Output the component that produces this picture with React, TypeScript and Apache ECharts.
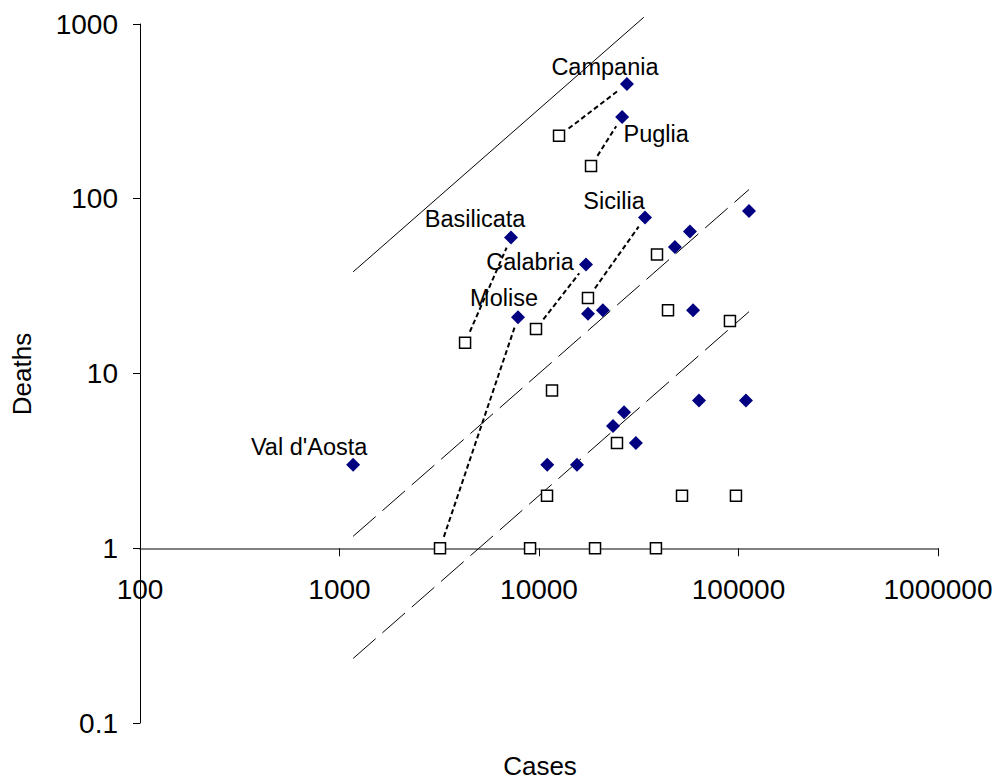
import React, { useEffect, useRef } from "react";
import * as echarts from "echarts";

// Later period (filled diamonds): cases and deaths per region
const diamondNames = [
  "Val d'Aosta", "Campania", "Puglia", "Sicilia", "Basilicata", "Calabria", "Molise",
  "", "", "", "", "", "", "", "", "", "", "", "", "",
];
const diamondCases = [
  1170, 27600, 26100, 34000, 7240, 17200, 7850,
  48000, 57100, 112900, 17600, 20900, 59200,
  11000, 15500, 23500, 26700, 30600, 63400, 109000,
];
const diamondDeaths = [
  3, 454, 294, 78, 60, 42, 21,
  53, 65, 85, 22, 23, 23,
  3, 3, 5, 6, 4, 7, 7,
];

// Earlier period (open squares)
const squareCases = [
  12600, 18230, 17600, 4260, 9660, 3190,
  39040, 44330, 90600, 11620, 24600, 10970, 52100, 97100, 9020, 19090, 38560,
];
const squareDeaths = [
  229, 154, 27, 15, 18, 1,
  48, 23, 20, 8, 4, 2, 2, 2, 1, 1, 1,
];

// dotted connectors: [diamond index, square index]
const connectorPairs = [
  [1, 0], [2, 1], [3, 2], [4, 3], [5, 4], [6, 5],
];

// reference lines deaths = rate * cases
const trendRates = [0.0326, 0.001, 0.0002];
const trendFrom = [1170, 1170, 1170];
const trendTo = [33500, 112900, 112900];

const xTickValues = [100, 1000, 10000, 100000, 1000000];
const xTickLabels = ["100", "1000", "10000", "100000", "1000000"];
const yTickValues = [0.1, 1, 10, 100, 1000];
const yTickLabels = ["0.1", "1", "10", "100", "1000"];

// label placement (style)
const labelOffsets: Record<string, [number, number]> = {
  "Val d'Aosta": [-44, -18],
  Campania: [-22, -17],
  Puglia: [34, 17],
  Sicilia: [-31, -17],
  Basilicata: [-36, -19],
  Calabria: [-56, -3],
  Molise: [-14, -19],
};

const FONT = "'Liberation Sans', Arial, sans-serif";

function pickLabel(values: number[], labels: string[], v: number) {
  const i = values.findIndex((t) => Math.abs(Math.log10(t) - Math.log10(v)) < 1e-6);
  return i >= 0 ? labels[i] : "";
}

export default function App() {
  const ref = useRef<HTMLDivElement>(null);

  useEffect(() => {
    if (!ref.current) return;
    const chart = echarts.init(ref.current, undefined, { renderer: "svg" });

    const gridTop = 24;
    const gridBottom = 60;
    const gridHeight = 783 - gridTop - gridBottom;
    const yMin = 0.1;
    const yMax = 1000;
    // move x-axis up to the y=1 line
    const xAxisOffset =
      -(gridHeight * (Math.log10(1) - Math.log10(yMin))) / (Math.log10(yMax) - Math.log10(yMin));

    const trendSeries = trendRates.map((r, i) => ({
      type: "line",
      data: [
        [trendFrom[i], r * trendFrom[i]],
        [trendTo[i], r * trendTo[i]],
      ],
      showSymbol: false,
      symbol: "none",
      clip: false,
      silent: true,
      z: 1,
      lineStyle: {
        color: "#000",
        width: 1,
        type: i === 0 ? "solid" : [30, 9],
      },
    }));

    const connectorData = connectorPairs.map(([d, s]) => [
      squareCases[s], squareDeaths[s], diamondCases[d], diamondDeaths[d],
    ]);

    const option: any = {
      animation: false,
      backgroundColor: "#fff",
      grid: {
        left: 140,
        right: 59,
        top: gridTop,
        bottom: gridBottom,
        containLabel: false,
        outerBoundsMode: "none",
      },
      xAxis: {
        type: "log",
        logBase: 10,
        min: 100,
        max: 1000000,
        offset: xAxisOffset,
        axisLine: { show: true, onZero: false, lineStyle: { color: "#808080", width: 2 } },
        axisTick: { show: true, inside: false, length: 8, lineStyle: { color: "#000", width: 1 } },
        axisLabel: {
          show: true,
          margin: 27,
          fontSize: 28,
          color: "#000",
          fontFamily: FONT,
          formatter: (v: number) => pickLabel(xTickValues, xTickLabels, v),
        },
        splitLine: { show: false },
        minorTick: { show: false },
      },
      yAxis: {
        type: "log",
        logBase: 10,
        min: yMin,
        max: yMax,
        axisLine: { show: true, onZero: false, lineStyle: { color: "#000", width: 1 } },
        axisTick: { show: true, inside: false, length: 7, lineStyle: { color: "#000", width: 1 } },
        axisLabel: {
          show: true,
          margin: 22,
          fontSize: 28,
          color: "#000",
          fontFamily: FONT,
          formatter: (v: number) => pickLabel(yTickValues, yTickLabels, v),
        },
        splitLine: { show: false },
        minorTick: { show: false },
      },
      graphic: [
        {
          type: "text",
          x: 22,
          y: 374,
          rotation: Math.PI / 2,
          style: {
            text: "Deaths",
            fontSize: 26,
            fontFamily: FONT,
            fill: "#000",
            textAlign: "center",
            textVerticalAlign: "middle",
          },
        },
        {
          type: "text",
          x: 540,
          y: 766,
          style: {
            text: "Cases",
            fontSize: 26,
            fontFamily: FONT,
            fill: "#000",
            textAlign: "center",
            textVerticalAlign: "middle",
          },
        },
      ],
      series: [
        ...trendSeries,
        {
          type: "custom",
          silent: true,
          z: 2,
          clip: false,
          data: connectorData,
          encode: { x: [0, 2], y: [1, 3] },
          renderItem: (_params: any, api: any) => {
            const p1 = api.coord([api.value(0), api.value(1)]);
            const p2 = api.coord([api.value(2), api.value(3)]);
            const dx = p2[0] - p1[0];
            const dy = p2[1] - p1[1];
            const len = Math.hypot(dx, dy) || 1;
            const g = 12;
            const ux = dx / len;
            const uy = dy / len;
            return {
              type: "line",
              shape: {
                x1: p1[0] + ux * g,
                y1: p1[1] + uy * g,
                x2: p2[0] - ux * (g - 1),
                y2: p2[1] - uy * (g - 1),
              },
              style: { stroke: "#000", lineWidth: 2, lineDash: [5, 3], fill: null },
            };
          },
        },
        {
          type: "scatter",
          z: 3,
          symbol: "rect",
          symbolSize: 11,
          itemStyle: { color: "#fff", borderColor: "#000", borderWidth: 1.5, opacity: 1 },
          data: squareCases.map((c, i) => [c, squareDeaths[i]]),
        },
        {
          type: "scatter",
          z: 4,
          symbol: "diamond",
          symbolSize: 14,
          itemStyle: { color: "#000080", opacity: 1 },
          data: diamondCases.map((c, i) => {
            const name = diamondNames[i];
            return {
              name,
              value: [c, diamondDeaths[i]],
              label: name
                ? {
                    show: true,
                    position: "inside",
                    offset: labelOffsets[name] || [0, -18],
                    formatter: "{b}",
                    fontSize: 23.5,
                    fontFamily: FONT,
                    color: "#000",
                    textBorderWidth: 0,
                  }
                : { show: false },
            };
          }),
        },
      ],
    };

    chart.setOption(option);
    return () => chart.dispose();
  }, []);

  return (
    <div
      ref={ref}
      style={{ position: "absolute", left: 0, top: 0, width: 997, height: 783, background: "#fff" }}
    />
  );
}
